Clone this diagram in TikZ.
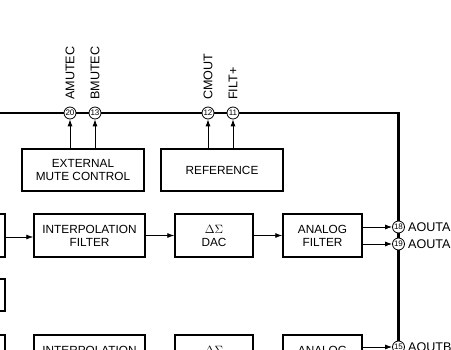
\documentclass[tikz,border=0pt]{standalone}
\usepackage{fontspec}
\setmainfont{Liberation Sans}
\usetikzlibrary{arrows.meta}
\begin{document}
\begin{tikzpicture}[x=1pt, y=-1pt,
  box/.style={
    draw, line width=1.5pt, minimum height=43pt, inner sep=0pt,
    align=center, font=\fontsize{11.8}{13}\selectfont
  },
  pin/.style={
    circle, draw, fill=white, line width=0.8pt, minimum size=12pt,
    inner sep=0pt, font=\fontsize{8}{8}\selectfont
  },
  plabel/.style={font=\fontsize{12.6}{13}\selectfont, inner sep=1.5pt},
  arrow/.style={-{Latex[length=7pt,width=5pt]}, line width=0.8pt},
  bus/.style={line width=2.3pt}
]
\useasboundingbox (0,0) rectangle (451,350);

% Bus
\draw[bus] (-10,113) -- (398.5,113) -- (398.5,370);

% Pins on the bus
\node[pin] (p20) at (70,113) {20};
\node[pin] (p13) at (95,113) {13};
\node[pin] (p12) at (208,113) {12};
\node[pin] (p11) at (233,113) {11};
\node[pin] (p18) at (398.5,227) {18};
\node[pin] (p19) at (398.5,244) {19};
\node[pin] (p15) at (398.5,347) {15};

% Pin labels
\node[plabel, rotate=90, anchor=west] at ([yshift=5pt]p20.north) {AMUTEC};
\node[plabel, rotate=90, anchor=west] at ([yshift=5pt]p13.north) {BMUTEC};
\node[plabel, rotate=90, anchor=west] at ([yshift=5pt]p12.north) {CMOUT};
\node[plabel, rotate=90, anchor=west] at ([yshift=5pt]p11.north) {FILT+};
\node[plabel, anchor=west, xshift=1.5pt] at (p18.east) {AOUTA};
\node[plabel, anchor=west, xshift=1.5pt] at (p19.east) {AOUTA};
\node[plabel, anchor=west, xshift=1.5pt] at (p15.east) {AOUTB};

% Control blocks
\node[box, minimum width=122pt, minimum height=42pt] (mute) at (83,170)
  {EXTERNAL\\MUTE CONTROL};
\node[box, minimum width=122pt, minimum height=42pt] (ref) at (222,170)
  {REFERENCE};

% Channel A
\node[box, minimum width=60pt] (inA) at (-25,235.5) {};
\node[box, minimum width=111pt] (interpA) at (89.5,235.5)
  {INTERPOLATION\\FILTER};
\node[box, minimum width=78pt] (dacA) at (214,235.5)
  {$\Delta\Sigma$\\DAC};
\node[box, minimum width=79pt] (afA) at (322.5,235.5)
  {ANALOG\\FILTER};

% Middle block
\node[box, minimum width=60pt, minimum height=32pt] (mid) at (-25,295) {};

% Channel B
\node[box, minimum width=60pt] (inB) at (-25,356.5) {};
\node[box, minimum width=111pt] (interpB) at (89.5,356.5)
  {INTERPOLATION\\FILTER};
\node[box, minimum width=78pt] (dacB) at (214,356.5)
  {$\Delta\Sigma$\\DAC};
\node[box, minimum width=79pt] (afB) at (322.5,356.5)
  {ANALOG\\FILTER};

% Arrows
\draw[arrow] (mute.north -| p20) -- (p20);
\draw[arrow] (mute.north -| p13) -- (p13);
\draw[arrow] (ref.north -| p12) -- (p12);
\draw[arrow] (ref.north -| p11) -- (p11);
\draw[arrow] ([yshift=-1.5pt]inA.east) -- ([yshift=-1.5pt]interpA.west);
\draw[arrow] (interpA) -- (dacA);
\draw[arrow] (dacA) -- (afA);
\draw[arrow] (afA.east |- p18) -- (p18);
\draw[arrow] (afA.east |- p19) -- (p19);
\draw[arrow] (afB.east |- p15) -- (p15);
\end{tikzpicture}
\end{document}
